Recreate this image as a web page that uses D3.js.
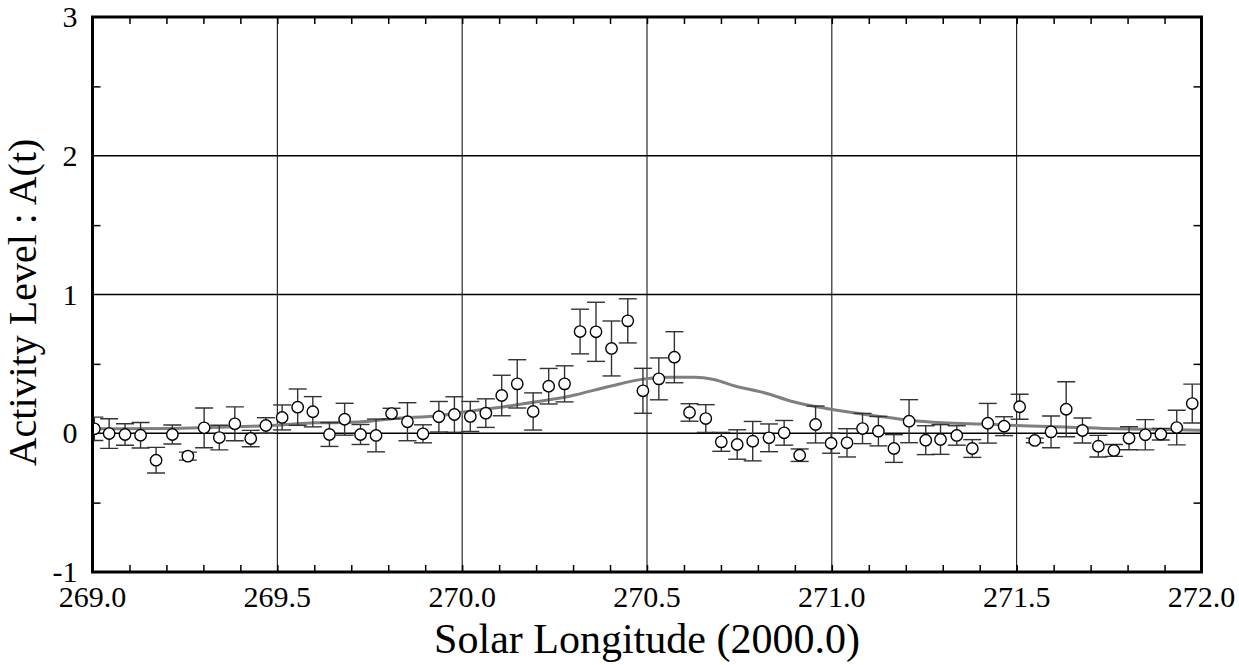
<!DOCTYPE html>
<html>
<head>
<meta charset="utf-8">
<script src="https://cdn.jsdelivr.net/npm/d3@7"></script>
<style>
  body { margin: 0; background: #fff; }
  svg { display: block; }
</style>
</head>
<body>
<svg width="1239" height="665"></svg>
<script>
// observed points: solar longitude, activity level, half error
var lon = [269.005, 269.045, 269.088, 269.130, 269.172, 269.216, 269.258, 269.302, 269.343, 269.385,
  269.428, 269.469, 269.513, 269.555, 269.596, 269.641, 269.682, 269.725, 269.767, 269.809,
  269.852, 269.894, 269.937, 269.979, 270.022, 270.064, 270.107, 270.149, 270.192, 270.234,
  270.277, 270.319, 270.362, 270.404, 270.448, 270.489, 270.532, 270.574, 270.615, 270.659,
  270.701, 270.744, 270.786, 270.830, 270.871, 270.913, 270.956, 270.998, 271.041, 271.083,
  271.126, 271.168, 271.209, 271.254, 271.294, 271.338, 271.380, 271.422, 271.466, 271.508,
  271.549, 271.593, 271.634, 271.678, 271.721, 271.763, 271.804, 271.848, 271.890, 271.933,
  271.975];
var activity = [0.032, -0.002, -0.009, -0.014, -0.194, -0.009, -0.165, 0.039, -0.031, 0.068,
  -0.038, 0.056, 0.114, 0.188, 0.155, -0.009, 0.101, -0.009, -0.016, 0.142,
  0.083, -0.004, 0.119, 0.135, 0.121, 0.145, 0.272, 0.356, 0.157, 0.339,
  0.356, 0.733, 0.731, 0.611, 0.810, 0.306, 0.392, 0.548, 0.150, 0.106,
  -0.062, -0.081, -0.057, -0.033, 0.003, -0.158, 0.063, -0.072, -0.069, 0.034,
  0.015, -0.110, 0.087, -0.050, -0.045, -0.016, -0.110, 0.072, 0.051, 0.191,
  -0.052, 0.010, 0.173, 0.020, -0.093, -0.124, -0.036, -0.011, -0.007, 0.041,
  0.214];
var err = [0.084, 0.107, 0.077, 0.092, 0.092, 0.068, 0.029, 0.143, 0.089, 0.122,
  0.059, 0.056, 0.090, 0.131, 0.109, 0.086, 0.115, 0.072, 0.118, 0.038,
  0.137, 0.065, 0.110, 0.128, 0.108, 0.103, 0.146, 0.174, 0.134, 0.128,
  0.130, 0.161, 0.213, 0.198, 0.159, 0.162, 0.151, 0.184, 0.063, 0.100,
  0.068, 0.106, 0.142, 0.100, 0.089, 0.045, 0.133, 0.072, 0.102, 0.109,
  0.106, 0.100, 0.155, 0.104, 0.107, 0.070, 0.064, 0.143, 0.068, 0.090,
  0.017, 0.114, 0.198, 0.090, 0.078, 0.043, 0.083, 0.109, 0.042, 0.125,
  0.140];

// model curve (gray line)
var modelLon = [269.0, 269.21, 269.43, 269.51, 269.6, 269.68, 269.75, 269.81, 269.94, 270.01,
  270.11, 270.21, 270.29, 270.40, 270.49, 270.56, 270.63, 270.68, 270.74, 270.82,
  270.89, 270.99, 271.12, 271.21, 271.30, 271.43, 271.50, 271.64, 271.77, 271.91, 272.0];
var modelA = [0.032, 0.035, 0.05, 0.06, 0.075, 0.078, 0.087, 0.105, 0.128, 0.155,
  0.19, 0.23, 0.267, 0.339, 0.39, 0.404, 0.404, 0.387, 0.339, 0.29,
  0.231, 0.176, 0.125, 0.093, 0.075, 0.065, 0.056, 0.044, 0.032, 0.027, 0.022];

var xTicks = [269.0, 269.5, 270.0, 270.5, 271.0, 271.5, 272.0];
var yTicks = [-1, 0, 1, 2, 3];

var svg = d3.select("svg"),
    margin = {top: 17, right: 37.5, bottom: 93, left: 92.5},
    width = +svg.attr("width") - margin.left - margin.right,
    height = +svg.attr("height") - margin.top - margin.bottom;

var x = d3.scaleLinear().domain([269, 272]).range([0, width]);
var y = d3.scaleLinear().domain([-1, 3]).range([height, 0]);

var g = svg.append("g").attr("transform", "translate(" + margin.left + "," + margin.top + ")");

svg.append("defs").append("clipPath").attr("id", "plot")
  .append("rect").attr("width", width).attr("height", height);

// grid
g.append("g").selectAll("line")
  .data(xTicks.slice(1, -1))
  .enter().append("line")
    .attr("x1", function(d) { return x(d); })
    .attr("x2", function(d) { return x(d); })
    .attr("y1", 0).attr("y2", height)
    .attr("stroke", "#000").attr("stroke-width", 1);

g.append("g").selectAll("line")
  .data(yTicks.slice(1, -1))
  .enter().append("line")
    .attr("x1", 0).attr("x2", width)
    .attr("y1", function(d) { return y(d); })
    .attr("y2", function(d) { return y(d); })
    .attr("stroke", "#000").attr("stroke-width", 1.7);

// minor ticks via axes, inward
var minorX = d3.range(1, 30).map(function(i) { return 269 + i / 10; });
var minorY = [-0.5, 0.5, 1.5, 2.5];
g.append("g").attr("transform", "translate(0," + height + ")")
  .call(d3.axisTop(x).tickValues(minorX).tickSize(7).tickFormat(""))
  .call(function(a) { a.select(".domain").remove(); a.selectAll("line").attr("stroke-width", 1.5); });
g.append("g")
  .call(d3.axisBottom(x).tickValues(minorX).tickSize(7).tickFormat(""))
  .call(function(a) { a.select(".domain").remove(); a.selectAll("line").attr("stroke-width", 1.5); });
g.append("g")
  .call(d3.axisRight(y).tickValues(minorY).tickSize(8).tickFormat(""))
  .call(function(a) { a.select(".domain").remove(); a.selectAll("line").attr("stroke-width", 1.5); });
g.append("g").attr("transform", "translate(" + width + ",0)")
  .call(d3.axisLeft(y).tickValues(minorY).tickSize(8).tickFormat(""))
  .call(function(a) { a.select(".domain").remove(); a.selectAll("line").attr("stroke-width", 1.5); });

var plot = g.append("g").attr("clip-path", "url(#plot)");

// model line
var line = d3.line()
  .x(function(d) { return x(d[0]); })
  .y(function(d) { return y(d[1]); })
  .curve(d3.curveMonotoneX);
plot.append("path")
  .datum(d3.zip(modelLon, modelA))
  .attr("d", line)
  .attr("fill", "none")
  .attr("stroke", "#7f7f7f")
  .attr("stroke-width", 3);

var pts = lon.map(function(d, i) { return {x: d, a: activity[i], e: err[i]}; });

// error bars
var bars = plot.append("g").attr("stroke", "#333").attr("stroke-width", 1.4)
  .selectAll("g").data(pts).enter().append("g");
bars.append("line")
  .attr("x1", function(d) { return x(d.x); })
  .attr("x2", function(d) { return x(d.x); })
  .attr("y1", function(d) { return y(d.a + d.e); })
  .attr("y2", function(d) { return y(d.a - d.e); });
bars.append("line")
  .attr("x1", function(d) { return x(d.x) - 9; })
  .attr("x2", function(d) { return x(d.x) + 9; })
  .attr("y1", function(d) { return y(d.a + d.e); })
  .attr("y2", function(d) { return y(d.a + d.e); });
bars.append("line")
  .attr("x1", function(d) { return x(d.x) - 9; })
  .attr("x2", function(d) { return x(d.x) + 9; })
  .attr("y1", function(d) { return y(d.a - d.e); })
  .attr("y2", function(d) { return y(d.a - d.e); });

plot.append("g").selectAll("circle")
  .data(pts)
  .enter().append("circle")
    .attr("cx", function(d) { return x(d.x); })
    .attr("cy", function(d) { return y(d.a); })
    .attr("r", 5.7)
    .attr("fill", "#fff")
    .attr("stroke", "#000")
    .attr("stroke-width", 1.4);

// frame
g.append("rect")
  .attr("width", width).attr("height", height)
  .attr("fill", "none").attr("stroke", "#000").attr("stroke-width", 3);

// tick labels
var font = "'Liberation Serif', 'Times New Roman', serif";
g.append("g").selectAll("text")
  .data(xTicks)
  .enter().append("text")
    .attr("x", function(d) { return x(d); })
    .attr("y", height + 35)
    .attr("text-anchor", "middle")
    .style("font", "30px " + font)
    .text(function(d) { return d.toFixed(1); });

g.append("g").selectAll("text")
  .data(yTicks)
  .enter().append("text")
    .attr("x", -15)
    .attr("y", function(d) { return y(d) + 10; })
    .attr("text-anchor", "end")
    .style("font", "30px " + font)
    .text(function(d) { return d; });

svg.append("text")
  .attr("x", margin.left + width / 2)
  .attr("y", 653)
  .attr("text-anchor", "middle")
  .style("font", "42px " + font)
  .text("Solar Longitude (2000.0)");

svg.append("text")
  .attr("transform", "translate(36," + (margin.top + height / 2 + 8) + ") rotate(-90)")
  .attr("text-anchor", "middle")
  .style("font", "40px " + font)
  .text("Activity Level : A(t)");
</script>
</body>
</html>
